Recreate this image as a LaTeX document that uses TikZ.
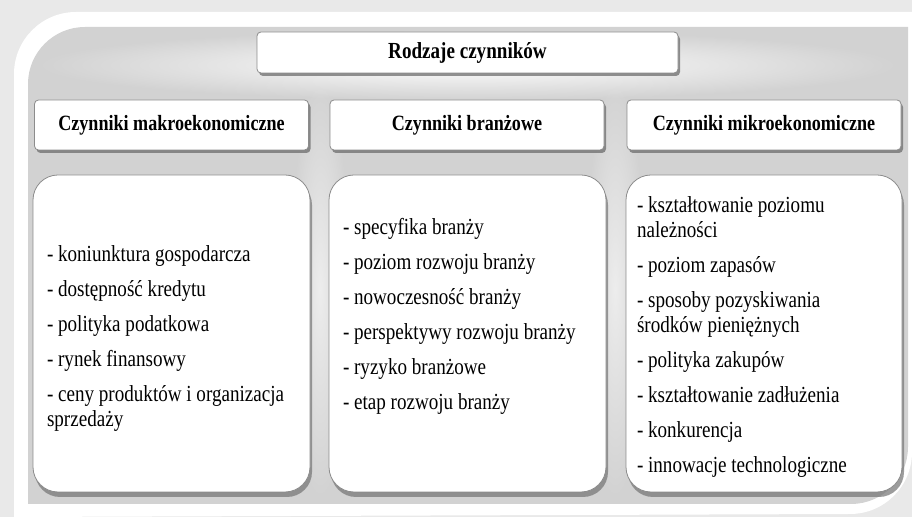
\documentclass[tikz,border=0pt]{standalone}
\usepackage{fontspec}
\setmainfont{Liberation Serif}[FakeStretch=0.83]
\usetikzlibrary{positioning,shadows,fadings}
\definecolor{PageGray}{RGB}{233,233,233}
\definecolor{FrameGray}{RGB}{210,210,210}
\tikzfading[name=glowfade,inner color=transparent!0,outer color=transparent!100]
\tikzset{
	head/.style={draw=black!45,fill=white,rounded corners=2pt,inner sep=0pt,
		minimum width=137pt,minimum height=25pt,
		font=\fontsize{10.9}{13}\selectfont\bfseries,
		drop shadow={shadow xshift=1pt,shadow yshift=-1.5pt,fill=black!60,opacity=0.7}},
	panel/.style={draw=black!45,fill=white,rounded corners=12.5pt,inner sep=0pt,
		minimum width=138.5pt,minimum height=158.5pt,
		drop shadow={shadow xshift=1pt,shadow yshift=-2.5pt,fill=black!55,opacity=0.7}},
	list/.style={anchor=base west,align=left,inner sep=0pt,
		font=\fontsize{11.5}{12.5}\selectfont},
	glow/.style={fill=white,path fading=glowfade},
}

\begin{document}
\begin{tikzpicture}[x=0.5pt,y=-0.5pt]
	\useasboundingbox (0,0) rectangle (912,517);
	% frame
	\fill[PageGray] (0,0) rectangle (912,517);
	\fill[white] (14,517) -- (14,74) arc[start angle=180,end angle=90,radius=31pt]
		-- (912,12) -- (912,452) arc[start angle=0,end angle=-90,radius=31pt] -- cycle;
	\fill[FrameGray] (28,504) -- (28,84) arc[start angle=180,end angle=90,radius=28.5pt]
		-- (908,27) -- (908,447) arc[start angle=0,end angle=-90,radius=28.5pt] -- cycle;
	\fill[glow] (35,30) rectangle (900,100);
	\fill[glow,opacity=0.6] (290,80) rectangle (350,500);
	\fill[glow,opacity=0.6] (585,80) rectangle (645,500);

	\node[head,minimum width=210.5pt,minimum height=20.5pt,
		font=\fontsize{11.5}{13}\selectfont\bfseries] (title) at (467.5,52.5) {Rodzaje czynników};

	\node[head] (makro) at (171.5,125) {Czynniki makroekonomiczne};
	\node[head] (branza) at (467,125) {Czynniki branżowe};
	\node[head] (mikro) at (764,125) {Czynniki mikroekonomiczne};

	\node[panel] (makroBox) at (171.5,333.5) {};
	\node[panel] (branzaBox) at (467.5,333.5) {};
	\node[panel,minimum width=138pt] (mikroBox) at (764,333.5) {};

	% lists: anchored at the baseline of their last line
	\node[list] (makroList) at ([shift={(14,252)}]makroBox.north west)
		{- koniunktura gospodarcza\\[5pt]
		 - dostępność kredytu\\[5pt]
		 - polityka podatkowa\\[5pt]
		 - rynek finansowy\\[5pt]
		 - ceny produktów i organizacja\\
		 sprzedaży};
	\node[list] (branzaList) at ([shift={(14,235)}]branzaBox.north west)
		{- specyfika branży\\[5pt]
		 - poziom rozwoju branży\\[5pt]
		 - nowoczesność branży\\[5pt]
		 - perspektywy rozwoju branży\\[5pt]
		 - ryzyko branżowe\\[5pt]
		 - etap rozwoju branży};
	\node[list] (mikroList) at ([shift={(11,298)}]mikroBox.north west)
		{- kształtowanie poziomu\\
		 należności\\[5pt]
		 - poziom zapasów\\[5pt]
		 - sposoby pozyskiwania\\
		 środków pieniężnych\\[5pt]
		 - polityka zakupów\\[5pt]
		 - kształtowanie zadłużenia\\[5pt]
		 - konkurencja\\[5pt]
		 - innowacje technologiczne};
\end{tikzpicture}
\end{document}
